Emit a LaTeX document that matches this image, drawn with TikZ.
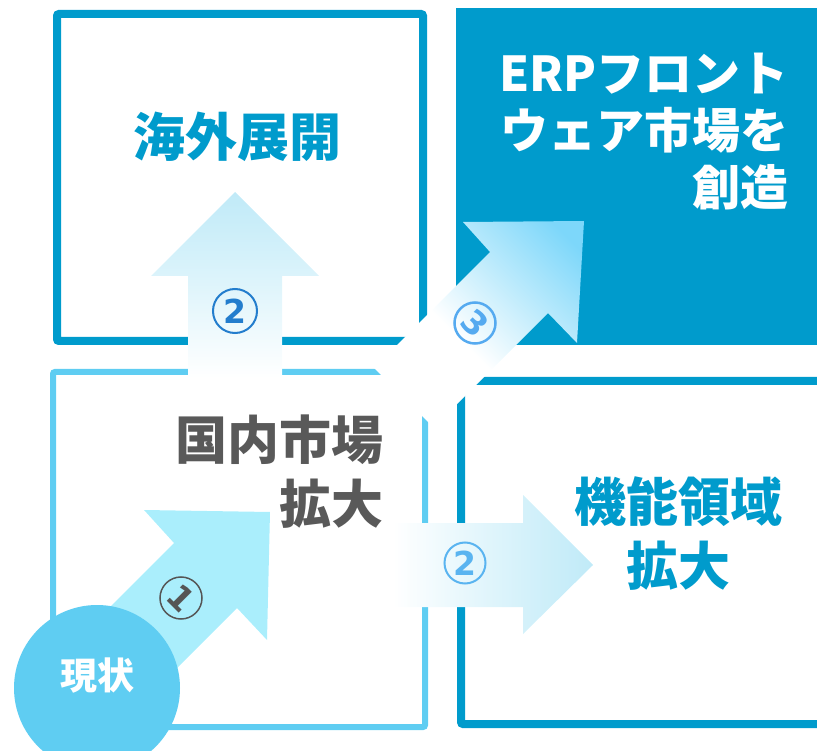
\documentclass[tikz,border=0pt]{standalone}
\usepackage{fontspec}
\newfontfamily\jp{Noto Sans CJK JP}
\newfontfamily\dv{DejaVu Sans}
\definecolor{dblue}{RGB}{0,155,204}
\definecolor{lblue}{RGB}{95,205,242}
\definecolor{cyanarrow}{RGB}{170,238,252}
\definecolor{arrtwo}{RGB}{192,234,248}
\definecolor{arrtwomid}{RGB}{212,241,250}
\definecolor{arrthree}{RGB}{125,215,250}
\definecolor{arrthreemid}{RGB}{190,235,252}
\definecolor{txtgray}{RGB}{89,89,89}
\definecolor{numtwoa}{RGB}{35,125,205}
\definecolor{numtwob}{RGB}{90,180,240}
\definecolor{numthree}{RGB}{85,170,240}
\definecolor{numone}{RGB}{85,85,85}
\pgfdeclareverticalshading{shtwo}{100bp}{color(0bp)=(white); color(25bp)=(white); color(58bp)=(arrtwomid); color(75bp)=(arrtwo); color(100bp)=(arrtwo)}
\pgfdeclareverticalshading{shthree}{100bp}{color(0bp)=(white); color(44bp)=(white); color(62bp)=(arrthreemid); color(80bp)=(arrthree); color(100bp)=(arrthree)}
\begin{document}
\begin{tikzpicture}[x=1pt,y=-1pt,
  boxdark/.style={draw=dblue, line width=8pt, rounded corners=2pt},
  boxlight/.style={draw=lblue, line width=6pt, rounded corners=2pt},
  bigtext/.style={font=\jp\bfseries\fontsize{52}{64}\selectfont, inner sep=0pt},
  numc/.style={circle, inner sep=0pt, font=\dv\bfseries\fontsize{33}{33}\selectfont}]
\useasboundingbox (0,0) rectangle (817,751);
% boxes
\draw[boxdark] (57,14) rectangle (423,341);
\fill[dblue] (456,8) rectangle (840,345);
\draw[boxlight] (53,372) rectangle (425,727);
\draw[boxdark] (461,381) rectangle (840,724);
% arrow 2 up
\shade[shading=shtwo] (235,192) -- (319,276) -- (282,276) -- (282,378) -- (188,378) -- (188,276) -- (151,276) -- cycle;
% arrow 2 right
\shade[shading=shtwo, shading angle=-90] (393,523) -- (523,523) -- (523,495) -- (593,565) -- (523,634) -- (523,607) -- (393,607) -- cycle;
% arrow 3
\shade[shading=shthree, shading angle=-45] (374,368) -- (490,252) -- (463,222) -- (584,221) -- (577,343) -- (548,313) -- (433.5,427.5) -- cycle;
% arrow 1
\fill[cyanarrow] (64,653) -- (174,543) -- (144,510) -- (270,512) -- (267,640) -- (237,608) -- (127,718) -- cycle;
% current state circle
\node[circle, fill=lblue, minimum size=166pt, inner sep=0pt] (now) at (97,688) {};
\node[font=\jp\bfseries\fontsize{37}{37}\selectfont, text=white, inner sep=0pt] (nowtxt) at (97,676) {現状};
% texts
\node[bigtext, text=dblue] (kaigai) at (237,137) {海外展開};
\node[font=\jp\bfseries\fontsize{48}{57}\selectfont, text=white, align=right, anchor=east, inner sep=0pt] (erp) at (789,132) {ERPフロント\\ウェア市場を\\創造};
\node[bigtext, text=txtgray, align=right, anchor=east] (kokunai) at (384,472) {国内市場\\拡大};
\node[bigtext, text=dblue, align=center] (kinou) at (678,534) {機能領域\\拡大};
% number labels
\node[numc, draw=numone, line width=1.5pt, minimum size=42pt, text=numone, rotate=-45] (n1) at (181,598) {1};
\node[numc, draw=numtwoa, line width=2pt, minimum size=44pt, text=numtwoa] (n2a) at (235,311) {2};
\node[numc, draw=numtwob, line width=2pt, minimum size=41pt, text=numtwob] (n2b) at (465,563) {2};
\node[numc, draw=numthree, line width=2.5pt, minimum size=41pt, text=numthree, rotate=-45] (n3) at (475,323) {3};
\end{tikzpicture}
\end{document}
